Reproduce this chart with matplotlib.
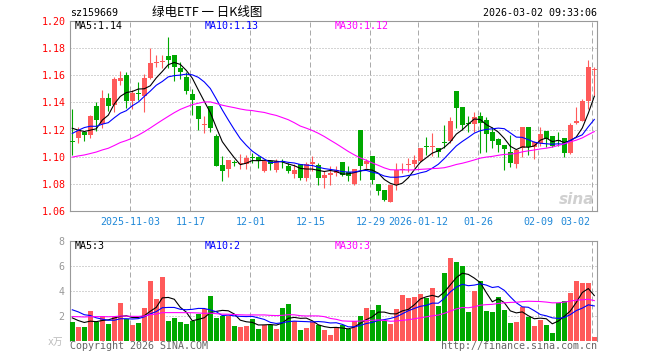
import matplotlib
matplotlib.use("Agg")
import matplotlib.pyplot as plt
import numpy as np
import pandas as pd

# daily K-line of sz159669, 2025-10-20 .. 2026-03-02 (88 sessions)
open_ = [1.1115, 1.114, 1.118, 1.116, 1.137, 1.124, 1.143, 1.138, 1.156, 1.160,
         1.141, 1.147, 1.145, 1.158, 1.169, 1.1695, 1.174, 1.175, 1.165, 1.159,
         1.1465, 1.1375, 1.1235, 1.1375, 1.1155, 1.094, 1.091, 1.0958, 1.0945, 1.0948,
         1.0995, 1.0998, 1.0894, 1.0968, 1.0907, 1.0968, 1.0936, 1.0877, 1.0944, 1.0845,
         1.0944, 1.094, 1.0845, 1.0863, 1.0882, 1.096, 1.0887, 1.0804, 1.1196, 1.0944,
         1.1005, 1.0804, 1.076, 1.0669, 1.0791, 1.0902, 1.0942, 1.0945, 1.0972, 1.1082,
         1.1074, 1.1068, 1.1105, 1.1113, 1.1487, 1.1368, 1.1245, 1.1239, 1.1302, 1.1267,
         1.118, 1.1129, 1.1087, 1.1033, 1.0947, 1.1063, 1.1217, 1.107, 1.110, 1.1193,
         1.1151, 1.1122, 1.1136, 1.1026, 1.1247, 1.1266, 1.1413, 1.1640]
high = [1.135, 1.122, 1.119, 1.131, 1.140, 1.149, 1.147, 1.159, 1.163, 1.162,
        1.149, 1.155, 1.161, 1.180, 1.175, 1.175, 1.188, 1.175, 1.170, 1.162,
        1.150, 1.1375, 1.130, 1.1375, 1.117, 1.1005, 1.0975, 1.098, 1.102, 1.101,
        1.1025, 1.1005, 1.098, 1.0975, 1.0985, 1.0985, 1.0956, 1.0944, 1.0944, 1.096,
        1.1005, 1.0956, 1.0894, 1.0931, 1.0936, 1.096, 1.0931, 1.0912, 1.1196, 1.0985,
        1.1005, 1.0804, 1.076, 1.0804, 1.0955, 1.0957, 1.0995, 1.1015, 1.1068, 1.1148,
        1.1177, 1.1068, 1.1236, 1.1295, 1.1487, 1.1368, 1.130, 1.1326, 1.1326, 1.1295,
        1.1216, 1.114, 1.109, 1.116, 1.105, 1.1217, 1.1217, 1.112, 1.1217, 1.1193,
        1.1151, 1.118, 1.1136, 1.1247, 1.1364, 1.1426, 1.1708, 1.166]
low = [1.101, 1.110, 1.112, 1.114, 1.119, 1.121, 1.134, 1.133, 1.153, 1.136,
       1.135, 1.142, 1.133, 1.157, 1.166, 1.165, 1.165, 1.156, 1.157, 1.146,
       1.131, 1.120, 1.1175, 1.118, 1.093, 1.082, 1.085, 1.0935, 1.091, 1.091,
       1.0955, 1.092, 1.0887, 1.090, 1.0887, 1.092, 1.088, 1.0845, 1.0833, 1.082,
       1.0894, 1.0796, 1.0772, 1.0796, 1.0858, 1.0858, 1.0826, 1.0796, 1.0828, 1.0919,
       1.0804, 1.0718, 1.0674, 1.0666, 1.0754, 1.0882, 1.0887, 1.0928, 1.096, 1.1013,
       1.1007, 1.100, 1.1068, 1.1105, 1.1212, 1.1196, 1.118, 1.118, 1.1026, 1.1032,
       1.1064, 1.1033, 1.0903, 1.0928, 1.0918, 1.0996, 1.1016, 1.0984, 1.1082, 1.107,
       1.107, 1.1082, 1.0996, 1.1021, 1.1242, 1.1266, 1.1352, 1.145]
close = [1.111, 1.119, 1.116, 1.130, 1.127, 1.143, 1.137, 1.157, 1.158, 1.141,
         1.147, 1.146, 1.158, 1.169, 1.170, 1.1705, 1.171, 1.166, 1.162, 1.148,
         1.142, 1.1277, 1.124, 1.121, 1.0935, 1.0895, 1.0975, 1.0953, 1.0955, 1.099,
         1.099, 1.097, 1.0968, 1.0944, 1.0968, 1.0963, 1.0894, 1.0907, 1.0845, 1.0944,
         1.096, 1.0848, 1.0865, 1.0882, 1.0907, 1.0863, 1.0858, 1.0912, 1.0936, 1.0973,
         1.0833, 1.0747, 1.068, 1.0796, 1.0902, 1.0907, 1.0946, 1.0974, 1.1068, 1.1072,
         1.1077, 1.1032, 1.1100, 1.1266, 1.1359, 1.1236, 1.124, 1.1289, 1.1247, 1.117,
         1.1118, 1.1085, 1.1058, 1.0957, 1.105, 1.1217, 1.107, 1.1107, 1.1168, 1.1131,
         1.1082, 1.1119, 1.1026, 1.1237, 1.1266, 1.1413, 1.1659, 1.1647]
volume = [1.53, 1.13, 1.13, 2.34, 1.48, 2.01, 1.37, 1.88, 2.98, 1.74,
          1.29, 1.42, 2.58, 4.75, 3.30, 5.07, 1.61, 1.85, 1.53, 1.37,
          1.61, 2.17, 2.50, 3.60, 1.85, 2.01, 2.01, 1.21, 1.13, 1.21,
          1.77, 0.97, 1.26, 1.26, 0.97, 2.58, 2.90, 1.61, 0.89, 1.05,
          1.53, 1.29, 0.89, 0.48, 1.13, 1.29, 0.94, 1.61, 2.01, 2.58,
          2.42, 2.82, 1.61, 1.37, 2.50, 3.62, 3.41, 3.46, 3.70, 3.38,
          4.19, 2.74, 5.42, 6.60, 6.28, 5.96, 2.26, 3.95, 4.75, 2.34,
          2.26, 3.46, 2.42, 1.45, 1.53, 2.66, 1.93, 1.21, 1.69, 1.29,
          0.64, 3.01, 3.14, 3.79, 4.75, 4.59, 4.59, 0.32]

# sessions before the window, only feed the moving averages
prev_close = [1.092, 1.095, 1.098, 1.094, 1.097, 1.100, 1.096, 1.093, 1.097, 1.094,
              1.080, 1.083, 1.086, 1.082, 1.085, 1.088, 1.085,
              1.090, 1.094, 1.092, 1.096, 1.096,
              1.120, 1.128, 1.127, 1.126, 1.121, 1.125, 1.122]
prev_volume = [1.5, 1.8, 1.6, 1.4, 1.9, 1.7, 1.5, 1.6, 2.0, 1.8,
               1.5, 1.7, 1.6, 1.9, 1.4, 1.7, 1.8, 1.6, 1.5, 1.7,
               2.8, 3.4, 3.0, 3.3, 3.1, 2.2, 1.9, 1.8, 1.7]

date_labels = ["2025-11-03", "11-17", "12-01", "12-15", "12-29",
               "2026-01-12", "01-26", "02-09", "03-02"]
date_index = [10, 20, 30, 40, 50, 58, 68, 78, 87]
price_ticks = [1.06, 1.08, 1.10, 1.12, 1.14, 1.16, 1.18, 1.20]
vol_ticks = [2, 4, 6, 8]

RED = "#ff5a5a"
GREEN = "#00a800"
GRID = "#aaaaaa"
BORDER = "#999999"
MONO = "DejaVu Sans Mono"
FS = 7.2

W, H = 660, 360
fig = plt.figure(figsize=(W / 100, H / 100), dpi=100)


def px_axes(left, top, right, bottom):
    return fig.add_axes([left / W, 1 - bottom / H, (right - left) / W, (bottom - top) / H])


ax = px_axes(70, 20.7, 597, 211.3)
axv = px_axes(70, 240.7, 597, 340.7)

x = np.arange(len(close))
o = np.array(open_)
c = np.array(close)
colors = np.where(c >= o, RED, GREEN)

# candles
ax.vlines(x, low, high, colors=colors, lw=0.8, zorder=3)
ax.bar(x, np.maximum(np.abs(c - o), 0.0006), 0.8, bottom=np.minimum(o, c),
       color=colors, linewidth=0, zorder=3)

n0 = len(prev_close)
full_close = pd.Series(prev_close + close)
full_vol = pd.Series(prev_volume + volume)
for n, col in [(5, "black"), (10, "blue"), (30, "magenta")]:
    ax.plot(x, full_close.rolling(n).mean().to_numpy()[n0:], color=col, lw=0.8, zorder=4)
    axv.plot(x, full_vol.rolling(n).mean().to_numpy()[n0:], color=col, lw=0.8, zorder=4)

axv.bar(x, volume, 0.8, color=colors, linewidth=0, zorder=3)

ax.set_xlim(-0.38, 87.45)
axv.set_xlim(-0.38, 87.45)
ax.set_ylim(1.06, 1.20)
axv.set_ylim(0, 8)

for a in (ax, axv):
    for gx in date_index:
        a.axvline(gx - 0.33, color=GRID, lw=0.72, ls=(0, (5, 3)), zorder=1)
    a.set_xticks([])
    a.tick_params(axis="y", length=0)
    for s in a.spines.values():
        s.set_color(BORDER)
        s.set_linewidth(0.8)
axv.spines["bottom"].set_visible(False)

for yv in price_ticks[1:-1]:
    ax.axhline(yv, color=GRID, lw=0.72, ls=(0, (1, 2)), zorder=1)
for yv in vol_ticks[:-1]:
    axv.axhline(yv, color=GRID, lw=0.72, ls=(0, (1, 2)), zorder=1)

ax.set_yticks(price_ticks)
ax.set_yticklabels([f"{v:.2f}" for v in price_ticks], color="red", family=MONO, fontsize=FS)
ax.tick_params(axis="y", pad=3)
axv.set_yticks(vol_ticks)
axv.set_yticklabels([str(v) for v in vol_ticks], color="#999999", family=MONO, fontsize=FS)
axv.tick_params(axis="y", pad=4)

# date labels under the price panel
tr = ax.get_xaxis_transform()
for lab, gx in zip(date_labels, date_index):
    if gx == date_index[-1]:
        ax.text(86.4, -0.055, lab, transform=tr, ha="right", va="center",
                color="#1f88d8", family=MONO, fontsize=FS)
    else:
        ax.text(gx - 0.33, -0.055, lab, transform=tr, ha="center", va="center",
                color="#1f88d8", family=MONO, fontsize=FS)

# header
fig.text(70 / W, 1 - 13 / H, "sz159669", ha="left", va="center", family=MONO, fontsize=FS)
fig.text(151.7 / W, 1 - 12.5 / H, "绿电ETF 一 日K线图", ha="left", va="center",
         family=["Noto Sans CJK SC", "DejaVu Sans"], fontsize=9)
fig.text(596.7 / W, 1 - 13 / H, "2026-03-02 09:33:06", ha="right", va="center",
         family=MONO, fontsize=FS)

# MA legends
for txt, col, xp in [("MA5:1.14", "black", 75), ("MA10:1.13", "blue", 205), ("MA30:1.12", "magenta", 335)]:
    fig.text(xp / W, 1 - 26 / H, txt, color=col, ha="left", va="center", family=MONO, fontsize=FS)
for txt, col, xp in [("MA5:3", "black", 75), ("MA10:2", "blue", 205), ("MA30:3", "magenta", 335)]:
    fig.text(xp / W, 1 - 246 / H, txt, color=col, ha="left", va="center", family=MONO, fontsize=FS)

fig.text(63 / W, 1 - 341.7 / H, "x万", ha="right", va="center", color="#bbbbbb",
         family=[MONO, "Noto Sans CJK SC"], fontsize=7)

# footer
fig.text(70 / W, 1 - 345.7 / H, "Copyright 2026 SINA.COM", ha="left", va="center",
         color="#666666", family=MONO, fontsize=FS)
fig.text(596.7 / W, 1 - 345.7 / H, "http://finance.sina.com.cn", ha="right", va="center",
         color="#666666", family=MONO, fontsize=FS)

# sina watermark
ax.text(0.995, 0.06, "sina", transform=ax.transAxes, ha="right", va="center",
        color="#d0d0d0", fontsize=11, fontweight="bold", style="italic", zorder=2)

fig.savefig("out.png", dpi=100)
